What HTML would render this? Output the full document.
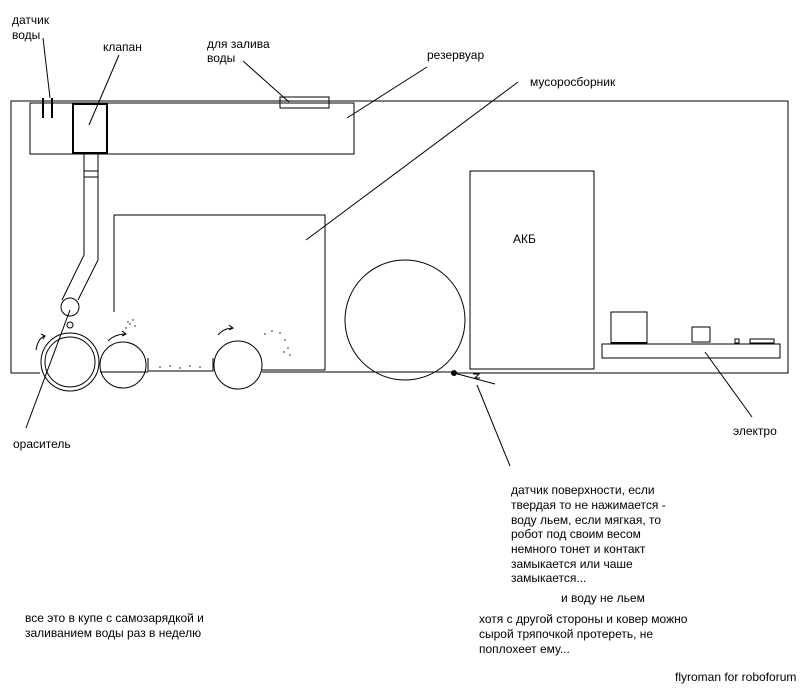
<!DOCTYPE html>
<html><head><meta charset="utf-8"><style>
html,body{margin:0;padding:0;background:#fff;}
svg{display:block;}
text{font-family:"Liberation Sans","DejaVu Sans",sans-serif;font-size:12px;fill:#000;}
</style></head><body>
<svg width="811" height="689" viewBox="0 0 811 689" xmlns="http://www.w3.org/2000/svg">
<g fill="none" stroke="#000" stroke-width="1">
<!-- main frame -->
<polyline points="40,373 11,373 11,101 788,101 788,373 455,373"/>
<line x1="100" y1="372" x2="148" y2="372"/>
<line x1="262" y1="372" x2="455" y2="372"/>
<!-- reservoir -->
<rect x="30" y="103" width="324" height="51"/>
<rect x="73" y="104" width="34" height="49" stroke-width="2"/>
<rect x="280" y="97" width="49" height="11"/>
<line x1="43" y1="98" x2="43" y2="118" stroke-width="2"/>
<line x1="52" y1="98" x2="52" y2="118" stroke-width="2"/>
<!-- tube -->
<rect x="84" y="171" width="14" height="6"/>
<polyline points="84,154 84,255 62,300"/>
<polyline points="98,154 98,260 78,300"/>
<circle cx="70" cy="307" r="9"/>
<circle cx="70" cy="325" r="3"/>
<!-- dust box -->
<polyline points="114,312 114,215 325,215 325,370 262,370"/>
<!-- rollers -->
<circle cx="70" cy="362" r="29"/>
<circle cx="70" cy="362" r="25"/>
<circle cx="123" cy="365" r="23"/>
<circle cx="238" cy="365" r="24"/>
<polyline points="148,358 148,371 213,371 213,358"/>
<!-- arrows -->
<path d="M36,350 Q38,338 45,336"/><path d="M41,334 L45,336 L43,339"/>
<path d="M108,341 Q115,334 126,334"/><path d="M122,331 L126,334 L122,336"/>
<path d="M218,335 Q224,328 233,328"/><path d="M229,325 L233,328 L229,330"/>
<!-- wheel & AKB -->
<circle cx="405" cy="320" r="60"/>
<rect x="470" y="171" width="124" height="198"/>
<!-- electro -->
<rect x="602" y="344" width="178" height="14"/>
<rect x="611" y="312" width="36" height="31"/>
<line x1="611" y1="343" x2="647" y2="343" stroke-width="2"/>
<rect x="692" y="327" width="18" height="15"/>
<rect x="735" y="339" width="4" height="4"/>
<rect x="750" y="339" width="24" height="4"/>
<!-- sensor -->
<line x1="454" y1="373" x2="495" y2="384"/>
<path d="M473,374 L479,374 L475,378 L480,378"/>
<!-- leaders -->
<line x1="43" y1="38" x2="50" y2="98"/>
<line x1="89" y1="125" x2="119" y2="55"/>
<line x1="289" y1="102" x2="243" y2="61"/>
<line x1="347" y1="118" x2="427" y2="67"/>
<line x1="306" y1="240" x2="518" y2="82"/>
<line x1="70" y1="310" x2="26" y2="428"/>
<line x1="477" y1="385" x2="510" y2="466"/>
<line x1="705" y1="352" x2="752" y2="417"/>
</g>
<circle cx="454" cy="373" r="3" fill="#000"/>
<!-- dust dots -->
<g fill="#000">
<circle cx="126" cy="328" r="0.7"/><circle cx="130" cy="324" r="0.7"/><circle cx="133" cy="320" r="0.7"/><circle cx="128" cy="322" r="0.7"/><circle cx="135" cy="326" r="0.7"/>
<circle cx="160" cy="367" r="0.7"/><circle cx="170" cy="366" r="0.7"/><circle cx="180" cy="368" r="0.7"/><circle cx="190" cy="366" r="0.7"/><circle cx="200" cy="367" r="0.7"/>
<circle cx="265" cy="334" r="0.7"/><circle cx="272" cy="331" r="0.7"/><circle cx="280" cy="333" r="0.7"/><circle cx="285" cy="340" r="0.7"/><circle cx="288" cy="348" r="0.7"/><circle cx="290" cy="355" r="0.7"/><circle cx="284" cy="352" r="0.7"/>
</g>
<text x="12" y="24">датчик</text>
<text x="12" y="39">воды</text>
<text x="103" y="51">клапан</text>
<text x="207" y="48">для залива</text>
<text x="207" y="62">воды</text>
<text x="427" y="59">резервуар</text>
<text x="530" y="86">мусоросборник</text>
<text x="513" y="243">АКБ</text>
<text x="13" y="448">ораситель</text>
<text x="733" y="435">электро</text>
<g>
<text x="511" y="494">датчик поверхности, если</text>
<text x="511" y="509">твердая то не нажимается -</text>
<text x="511" y="524">воду льем, если мягкая, то</text>
<text x="511" y="538">робот под своим весом</text>
<text x="511" y="553">немного тонет и контакт</text>
<text x="511" y="568">замыкается  или чаше</text>
<text x="511" y="582">замыкается...</text>
<text x="561" y="602">и воду не льем</text>
<text x="479" y="623">хотя с другой стороны и ковер можно</text>
<text x="479" y="638">сырой тряпочкой протереть, не</text>
<text x="479" y="653">поплохеет ему...</text>
<text x="675" y="681">flyroman for roboforum</text>
<text x="25" y="622">все это в купе с самозарядкой и</text>
<text x="25" y="637">заливанием воды раз в неделю</text>
</g>
</svg>
</body></html>
